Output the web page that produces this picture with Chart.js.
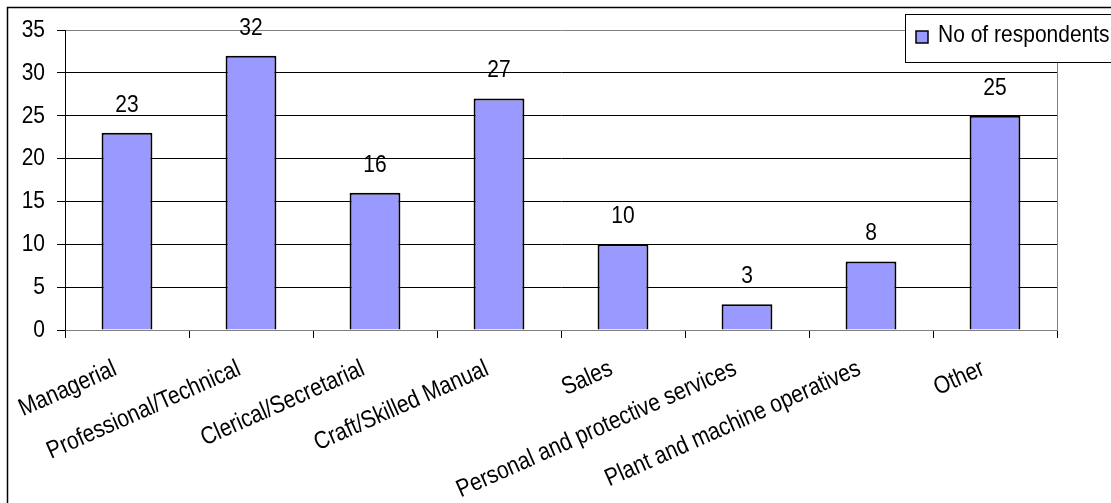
<!DOCTYPE html>
<html>
<head>
<meta charset="utf-8">
<script src="https://cdn.jsdelivr.net/npm/chart.js@4.4.0/dist/chart.umd.min.js"></script>
<style>
  html, body { margin: 0; padding: 0; background: #fff; }
  #wrap { width: 1111px; height: 503px; position: relative; }
</style>
</head>
<body>
<div id="wrap"><canvas id="chart"></canvas></div>
<script>
const categories = [
  'Managerial',
  'Professional/Technical',
  'Clerical/Secretarial',
  'Craft/Skilled Manual',
  'Sales',
  'Personal and protective services',
  'Plant and machine operatives',
  'Other'
];
const respondents = [23, 32, 16, 27, 10, 3, 8, 25];
const yMin = 0;
const yMax = 35;
const yStep = 5;
const seriesName = 'No of respondents';

const FONT = '21px "Liberation Sans", Arial, sans-serif';
const STRETCH = 1.18; // the original text is a bit taller than plain Arial
const X_LABEL_ANGLE = 24;
const BAR_FILL = '#9999FF';

function drawText(ctx, text, x, y, align, baseline, angleDeg) {
  ctx.save();
  ctx.translate(x, y);
  if (angleDeg) ctx.rotate(-angleDeg * Math.PI / 180);
  ctx.scale(1, STRETCH);
  ctx.font = FONT;
  ctx.fillStyle = '#000';
  ctx.textAlign = align;
  ctx.textBaseline = baseline;
  ctx.fillText(text, 0, 0);
  ctx.restore();
}

// outer frame (only left/top visible, rest is cropped) + right edge of plot
const framePlugin = {
  id: 'frame',
  beforeDraw(chart) {
    const ctx = chart.ctx;
    ctx.save();
    ctx.fillStyle = '#fff';
    ctx.fillRect(0, 0, chart.width, chart.height);
    ctx.strokeStyle = '#000';
    ctx.lineWidth = 1.5;
    ctx.beginPath();
    ctx.moveTo(7.5, chart.height + 2);
    ctx.lineTo(7.5, 7.5);
    ctx.lineTo(chart.width + 2, 7.5);
    ctx.stroke();
    ctx.restore();
  },
  afterDraw(chart) {
    const a = chart.chartArea;
    const ctx = chart.ctx;
    ctx.save();
    ctx.strokeStyle = '#808080';
    ctx.lineWidth = 1;
    ctx.beginPath();
    ctx.moveTo(Math.round(a.right) + 0.5, a.top);
    ctx.lineTo(Math.round(a.right) + 0.5, a.bottom);
    ctx.stroke();
    ctx.restore();
  }
};

// tick labels, placed from the scales' own tick pixels
const axisLabels = {
  id: 'axisLabels',
  afterDraw(chart) {
    const ctx = chart.ctx;
    const x = chart.scales.x;
    const y = chart.scales.y;
    x.ticks.forEach((t, i) => {
      drawText(ctx, categories[i], x.getPixelForTick(i) - 9, x.top + 44, 'right', 'alphabetic', X_LABEL_ANGLE);
    });
    y.ticks.forEach((t, i) => {
      drawText(ctx, String(t.value), y.right - 20, y.getPixelForTick(i), 'right', 'middle');
    });
  }
};

// numbers above bars
const valueLabels = {
  id: 'valueLabels',
  afterDatasetsDraw(chart) {
    chart.getDatasetMeta(0).data.forEach((bar, i) => {
      drawText(chart.ctx, String(respondents[i]), bar.x, bar.y - 28, 'center', 'middle');
    });
  }
};

// boxed legend sitting over the top right corner
const boxLegend = {
  id: 'boxLegend',
  afterDraw(chart) {
    const ctx = chart.ctx;
    const x = 905.5, y = 14.5, w = 210, h = 48;
    ctx.save();
    ctx.fillStyle = '#fff';
    ctx.fillRect(x, y, w, h);
    ctx.strokeStyle = '#000';
    ctx.lineWidth = 1;
    ctx.strokeRect(x, y, w, h);
    ctx.fillStyle = BAR_FILL;
    ctx.fillRect(916, 31, 12, 12);
    ctx.lineWidth = 1.5;
    ctx.strokeRect(916, 31, 12, 12);
    ctx.restore();
    drawText(ctx, seriesName, 938, 42, 'left', 'alphabetic');
  }
};

new Chart(document.getElementById('chart'), {
  type: 'bar',
  data: {
    labels: categories,
    datasets: [{
      label: seriesName,
      data: respondents,
      backgroundColor: BAR_FILL,
      borderColor: '#000',
      borderWidth: 2,
      barPercentage: 0.41,
      categoryPercentage: 1
    }]
  },
  options: {
    responsive: true,
    maintainAspectRatio: false,
    animation: false,
    layout: { padding: { left: 0, top: 30, right: 54, bottom: 0 } },
    plugins: {
      legend: { display: false },
      tooltip: { enabled: false }
    },
    scales: {
      x: {
        offset: true,
        grid: {
          offset: true,
          drawOnChartArea: false,
          drawTicks: true,
          tickLength: 8,
          tickColor: '#000'
        },
        border: { color: '#808080', width: 1 },
        ticks: { display: false, autoSkip: false },
        afterFit(scale) { scale.height = 173; }
      },
      y: {
        min: yMin,
        max: yMax,
        ticks: { display: false, stepSize: yStep },
        grid: {
          color: c => (c.tick && (c.tick.value === yMax || c.tick.value === yMin)) ? '#808080' : '#000',
          tickLength: 8,
          tickColor: '#000'
        },
        border: { color: '#000', width: 1 },
        afterFit(scale) { scale.width = 65; }
      }
    }
  },
  plugins: [framePlugin, axisLabels, valueLabels, boxLegend]
});
</script>
</body>
</html>
